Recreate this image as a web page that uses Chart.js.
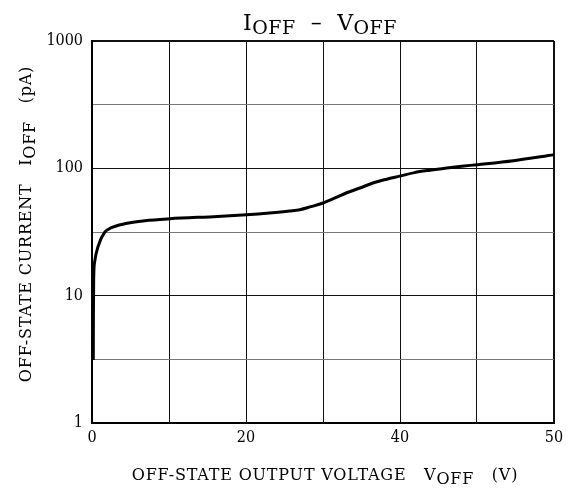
<!DOCTYPE html>
<html><head><meta charset="utf-8">
<script src="https://cdn.jsdelivr.net/npm/chart.js@4/dist/chart.umd.min.js"></script>
<style>html,body{margin:0;padding:0;background:#fff;} #wrap{width:573px;height:494px;position:relative;}</style>
</head><body><div id="wrap"><canvas id="c" width="573" height="494"></canvas></div>
<script>
// Off-state output voltage (V) and off-state current (pA)
const voltage = [0.14, 0.15, 0.18, 0.29, 0.65, 1.38, 2.10, 3.54, 5.71, 8.41, 13.6, 16.7, 19.2, 21.4, 22.5, 23.7, 25.0, 26.3, 27.5, 29.0, 30.4, 31.9, 33.3, 34.9, 36.6, 38.4, 40.0, 41.7, 45.6, 50.0];
const current = [3.13, 6.46, 13.3, 18.5, 24.3, 31.5, 34.2, 36.7, 38.8, 40.2, 41.9, 43.2, 44.6, 46.2, 47.3, 50.0, 53.4, 58.5, 64.0, 70.1, 76.7, 82.2, 86.8, 92.5, 96.7, 100.6, 103.8, 106.9, 114.9, 128.0];
const xTickLabels = ['0', '', '20', '', '40', '', '50'];
const yTickValues = [1, 3.162, 10, 31.62, 100, 316.2, 1000];
const yTickLabels = ['1', '', '10', '', '100', '', '1000'];
const titleParts = [['I', 0], ['OFF', 1], ['  \u2013  ', 0], ['V', 0], ['OFF', 1]];
const xTitleParts = [['OFF-STATE OUTPUT VOLTAGE   V', 0], ['OFF', 1], ['   (V)', 0]];
const yTitleParts = [['OFF-STATE CURRENT   I', 0], ['OFF', 1], ['   (pA)', 0]];

const FONT = "'DejaVu Serif', serif";
const TICK_FONT = "'DejaVu Serif Condensed', 'DejaVu Serif', serif";
const X_MAX = 50;

function drawParts(ctx, parts, size, subSize, subDy, spacing, cx, cy, rotate) {
  ctx.save();
  ctx.translate(cx, cy);
  if (rotate) ctx.rotate(-Math.PI / 2);
  ctx.fillStyle = '#000';
  ctx.textBaseline = 'alphabetic';
  ctx.textAlign = 'left';
  ctx.letterSpacing = spacing + 'px';
  let total = 0;
  const widths = parts.map(p => {
    ctx.font = (p[1] ? subSize : size) + 'px ' + FONT;
    const w = ctx.measureText(p[0]).width; total += w; return w;
  });
  let x = -total / 2;
  parts.forEach((p, i) => {
    ctx.font = (p[1] ? subSize : size) + 'px ' + FONT;
    ctx.fillText(p[0], x, p[1] ? subDy : 0);
    x += widths[i];
  });
  ctx.restore();
}

const textPlugin = {
  id: 'texts',
  afterDraw(chart) {
    const ctx = chart.ctx;
    drawParts(ctx, titleParts, 22, 19, 4, 0.5, 320, 30, false);
    drawParts(ctx, xTitleParts, 16, 16, 4, 0.8, 325, 480, false);
    drawParts(ctx, yTitleParts, 16, 16, 4, 0.8, 31, 224, true);
  }
};

new Chart(document.getElementById('c'), {
  type: 'line',
  data: {
    datasets: [{
      data: voltage.map((v, i) => ({ x: v, y: current[i] })),
      borderColor: '#000',
      borderWidth: 3,
      pointRadius: 0,
      fill: false,
      tension: 0.4,
      cubicInterpolationMode: 'monotone'
    }]
  },
  options: {
    responsive: false,
    animation: false,
    devicePixelRatio: 1,
    layout: { padding: { top: 41, right: 19, left: 0, bottom: 0 } },
    plugins: { legend: { display: false }, title: { display: false }, tooltip: { enabled: false } },
    scales: {
      x: {
        type: 'linear', min: 0, max: X_MAX,
        afterBuildTicks: s => { s.ticks = xTickLabels.map((_, i) => ({ value: i * X_MAX / (xTickLabels.length - 1) })); },
        afterFit: s => { s.height = 71; },
        ticks: {
          autoSkip: false, maxRotation: 0, padding: 5, color: '#000',
          font: { family: TICK_FONT, size: 16 },
          callback: (v, i) => xTickLabels[i]
        },
        grid: {
          drawTicks: false,
          color: '#111',
          lineWidth: c => (c.index === xTickLabels.length - 1 ? 2 : 1)
        },
        border: { display: true, color: '#000', width: 2 }
      },
      y: {
        type: 'logarithmic', min: 1, max: 1000,
        afterBuildTicks: s => { s.ticks = yTickValues.map(v => ({ value: v })); },
        afterFit: s => { s.width = 92; },
        ticks: {
          autoSkip: false, padding: 9, color: '#000',
          font: { family: TICK_FONT, size: 16 },
          callback: (v, i) => yTickLabels[i]
        },
        grid: {
          drawTicks: false,
          color: c => (yTickLabels[c.index] === '' ? '#777' : '#111'),
          lineWidth: c => (c.index === yTickValues.length - 1 ? 2 : 1)
        },
        border: { display: true, color: '#000', width: 2 }
      }
    }
  },
  plugins: [textPlugin]
});
</script>
</body></html>
